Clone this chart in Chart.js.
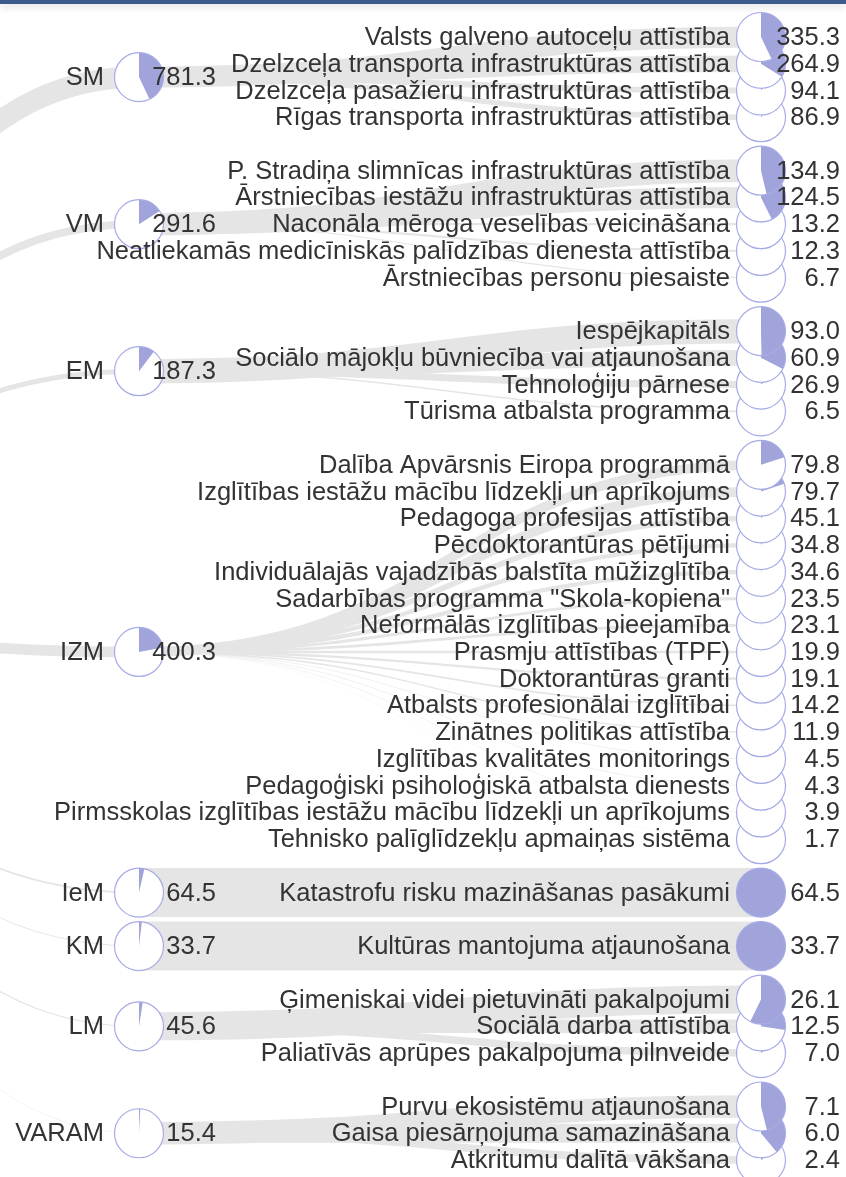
<!DOCTYPE html>
<html><head><meta charset="utf-8">
<script src="https://cdn.jsdelivr.net/npm/chart.js@4/dist/chart.umd.min.js"></script>
<style>
html,body{margin:0;padding:0;background:#fff;overflow:hidden}
#wrap{position:relative;width:846px;height:1177px}
#bar{position:absolute;left:0;top:0;width:846px;height:4px;background:#3c5a8c;box-shadow:0 2px 8px rgba(0,0,0,0.18);z-index:2}
canvas{position:absolute;left:0;top:0}
</style></head><body>
<div id="wrap"><div id="bar"></div><canvas id="c" width="846" height="1177"></canvas></div>
<script>
// ---- data ----
const ministries = ['SM','VM','EM','IZM','IeM','KM','LM','VARAM'];
const ministryValues = [781.3, 291.6, 187.3, 400.3, 64.5, 33.7, 45.6, 15.4];

const smPrograms = ['Valsts galveno autoceļu attīstība','Dzelzceļa transporta infrastruktūras attīstība','Dzelzceļa pasažieru infrastruktūras attīstība','Rīgas transporta infrastruktūras attīstība'];
const smValues = [335.3, 264.9, 94.1, 86.9];

const vmPrograms = ['P. Stradiņa slimnīcas infrastruktūras attīstība','Ārstniecības iestāžu infrastruktūras attīstība','Naconāla mēroga veselības veicināšana','Neatliekamās medicīniskās palīdzības dienesta attīstība','Ārstniecības personu piesaiste'];
const vmValues = [134.9, 124.5, 13.2, 12.3, 6.7];

const emPrograms = ['Iespējkapitāls','Sociālo mājokļu būvniecība vai atjaunošana','Tehnoloģiju pārnese','Tūrisma atbalsta programma'];
const emValues = [93.0, 60.9, 26.9, 6.5];

const izmPrograms = ['Dalība Apvārsnis Eiropa programmā','Izglītības iestāžu mācību līdzekļi un aprīkojums','Pedagoga profesijas attīstība','Pēcdoktorantūras pētījumi','Individuālajās vajadzībās balstīta mūžizglītība','Sadarbības programma "Skola-kopiena"','Neformālās izglītības pieejamība','Prasmju attīstības (TPF)','Doktorantūras granti','Atbalsts profesionālai izglītībai','Zinātnes politikas attīstība','Izglītības kvalitātes monitorings','Pedagoģiski psiholoģiskā atbalsta dienests','Pirmsskolas izglītības iestāžu mācību līdzekļi un aprīkojums','Tehnisko palīglīdzekļu apmaiņas sistēma'];
const izmValues = [79.8, 79.7, 45.1, 34.8, 34.6, 23.5, 23.1, 19.9, 19.1, 14.2, 11.9, 4.5, 4.3, 3.9, 1.7];

const iemPrograms = ['Katastrofu risku mazināšanas pasākumi'];
const iemValues = [64.5];

const kmPrograms = ['Kultūras mantojuma atjaunošana'];
const kmValues = [33.7];

const lmPrograms = ['Ģimeniskai videi pietuvināti pakalpojumi','Sociālā darba attīstība','Paliatīvās aprūpes pakalpojuma pilnveide'];
const lmValues = [26.1, 12.5, 7.0];

const varamPrograms = ['Purvu ekosistēmu atjaunošana','Gaisa piesārņojuma samazināšana','Atkritumu dalītā vākšana'];
const varamValues = [7.1, 6.0, 2.4];

const programNames = [smPrograms, vmPrograms, emPrograms, izmPrograms, iemPrograms, kmPrograms, lmPrograms, varamPrograms];
const programValues = [smValues, vmValues, emValues, izmValues, iemValues, kmValues, lmValues, varamValues];

// ---- tree layout (depth on x, slot index on y, d3.tree-like separation) ----
const total = ministryValues.reduce((a,b)=>a+b,0);
const leafPts = [], minPts = [];
let slot = 0;
ministries.forEach((m, gi) => {
  if (gi > 0) slot += 1;
  const first = slot;
  programNames[gi].forEach((n, i) => {
    leafPts.push({x: 2, y: slot, name: n, value: programValues[gi][i], parent: gi, frac: programValues[gi][i] / ministryValues[gi]});
    slot++;
  });
  const last = slot - 1;
  minPts.push({x: 1, y: (first + last) / 2, name: m, value: ministryValues[gi], frac: ministryValues[gi] / total});
});
const rootPt = {x: 0, y: (minPts[0].y + minPts[minPts.length-1].y) / 2};

const R = 24.5;
const LINK = '#e5e5e5';
const RING = '#a6abe6';
const WEDGE = '#a0a4da';
const TXT = '#333333';
const FONT = '25.5px "Liberation Sans", Arial, sans-serif';

function link(ctx, x0, y0, x1, y1, w) {
  const mx = (x0 + x1) / 2;
  ctx.beginPath();
  ctx.moveTo(x0, y0);
  ctx.bezierCurveTo(mx, y0, mx, y1, x1, y1);
  ctx.lineWidth = w;
  ctx.strokeStyle = LINK;
  ctx.stroke();
}
function pie(ctx, x, y, frac) {
  ctx.beginPath(); ctx.arc(x, y, R, 0, Math.PI*2); ctx.fillStyle = '#fff'; ctx.fill();
  if (frac > 0) {
    ctx.beginPath(); ctx.moveTo(x, y);
    ctx.arc(x, y, R, -Math.PI/2, -Math.PI/2 + frac*Math.PI*2);
    ctx.closePath(); ctx.fillStyle = WEDGE; ctx.fill();
  }
  ctx.beginPath(); ctx.arc(x, y, R, 0, Math.PI*2);
  ctx.lineWidth = 1.2; ctx.strokeStyle = RING; ctx.stroke();
}

const treePlugin = {
  id: 'tree',
  beforeDatasetsDraw(chart) {
    const ctx = chart.ctx, xs = chart.scales.x, ys = chart.scales.y;
    const minMeta = chart.getDatasetMeta(0).data, leafMeta = chart.getDatasetMeta(1).data;
    const rx = xs.getPixelForValue(rootPt.x), ry = ys.getPixelForValue(rootPt.y);
    ctx.save();
    ctx.lineCap = 'butt';
    minPts.forEach((p, i) => link(ctx, rx, ry, minMeta[i].x, minMeta[i].y, p.frac * 2 * R));
    leafPts.forEach((p, i) => {
      const pm = minMeta[p.parent];
      link(ctx, pm.x, pm.y, leafMeta[i].x, leafMeta[i].y, p.frac * 2 * R);
    });
    ctx.restore();
  },
  afterDatasetsDraw(chart) {
    const ctx = chart.ctx;
    const minMeta = chart.getDatasetMeta(0).data, leafMeta = chart.getDatasetMeta(1).data;
    ctx.save();
    for (let i = leafPts.length - 1; i >= 0; i--) pie(ctx, leafMeta[i].x, leafMeta[i].y, leafPts[i].frac);
    for (let i = minPts.length - 1; i >= 0; i--) pie(ctx, minMeta[i].x, minMeta[i].y, minPts[i].frac);
    ctx.font = FONT; ctx.fillStyle = TXT; ctx.textBaseline = 'middle';
    minPts.forEach((p, i) => {
      const e = minMeta[i];
      ctx.textAlign = 'right';
      ctx.fillText(p.name, e.x - 35, e.y + 1);
      ctx.fillText(p.value.toFixed(1), e.x + 77, e.y + 1);
    });
    leafPts.forEach((p, i) => {
      const e = leafMeta[i];
      ctx.textAlign = 'right';
      ctx.fillText(p.name, e.x - 31, e.y + 1);
      ctx.fillText(p.value.toFixed(1), e.x + 79, e.y + 1);
    });
    ctx.restore();
  }
};

new Chart(document.getElementById('c'), {
  type: 'scatter',
  data: {
    datasets: [
      {label: 'Ministrijas', data: minPts, pointRadius: 0, pointHoverRadius: 0, pointHitRadius: 0},
      {label: 'Programmas', data: leafPts, pointRadius: 0, pointHoverRadius: 0, pointHitRadius: 0}
    ]
  },
  options: {
    responsive: false,
    animation: false,
    events: [],
    devicePixelRatio: 1,
    layout: {padding: 0},
    plugins: {legend: {display: false}, tooltip: {enabled: false}, title: {display: false}},
    scales: {
      x: {type: 'linear', display: false, min: 0.77653, max: 2.13666, grace: 0},
      y: {type: 'linear', display: false, reverse: true, min: -1.3838, max: 42.636, grace: 0}
    }
  },
  plugins: [treePlugin]
});
</script>
</body></html>
